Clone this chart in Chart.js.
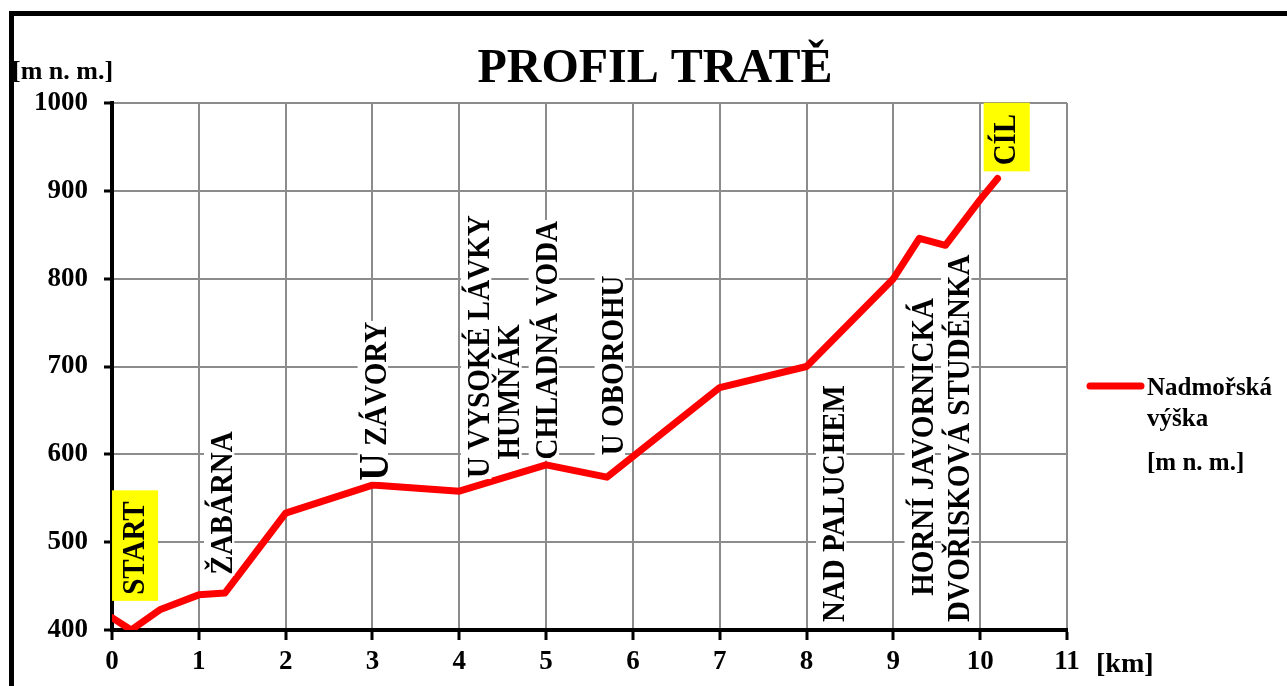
<!DOCTYPE html>
<html>
<head>
<meta charset="utf-8">
<script src="https://cdn.jsdelivr.net/npm/chart.js@4.4.0/dist/chart.umd.min.js"></script>
<style>
  html, body { margin: 0; padding: 0; background: #fff; overflow: hidden; }
  #frame { position: absolute; left: 9px; top: 11px; width: 1400px; height: 800px; border: 5px solid #000; }
  #wrap { position: absolute; left: 0; top: 0; width: 1287px; height: 686px; }
</style>
</head>
<body>
<div id="frame"></div>
<div id="wrap"><canvas id="chart" width="1287" height="686"></canvas></div>
<script>
// profile of the track: distance [km] and elevation [m n. m.]
const kmPoints  = [0, 0.22, 0.55, 1.0, 1.3, 2.0, 3.0, 4.0, 5.0, 5.7, 7.0, 8.0, 9.0, 9.3, 9.6, 10.0, 10.2];
const elevation = [414, 400, 423, 440, 442, 533, 565, 558, 588, 574, 676, 700, 800, 846, 838, 890, 914];

const xTicks = [0, 1, 2, 3, 4, 5, 6, 7, 8, 9, 10, 11];
const yTicks = [400, 500, 600, 700, 800, 900, 1000];

// place names, written upwards; anchored at km / elevation of text start
const siteNames = ["START", "ŽABÁRNA", "U ZÁVORY", "U VYSOKÉ LÁVKY", "HUMŇÁK", "CHLADNÁ VODA",
                   "U OBOROHU", "NAD PALUCHEM", "HORNÍ JAVORNICKÁ", "DVOŘISKOVÁ STUDÉNKA", "CÍL"];
const siteKm   = [0.24, 1.26, 3.03, 4.22, 4.57, 5.0, 5.76, 8.31, 9.33, 9.75, 10.28];
const siteElev = [440, 463, 570, 573, 594, 594, 599, 409, 439, 409, 929];
const siteMark = [true, false, false, false, false, false, false, false, false, false, true];

const FONT = '"Liberation Serif", "Times New Roman", serif';

const labelsPlugin = {
  id: 'profileLabels',
  afterDatasetsDraw(chart) {
    const ctx = chart.ctx;
    const xs = chart.scales.x, ys = chart.scales.y;
    const size = 29;
    const stretch = 1.12;
    ctx.save();
    siteNames.forEach((name, i) => {
      const px = xs.getPixelForValue(siteKm[i]);
      const py = ys.getPixelForValue(siteElev[i]);
      // "U ZÁVORY" has a larger leading letter in the original
      const big = name === 'U ZÁVORY';
      const head = big ? 'U' : '';
      const rest = big ? name.slice(1) : name;
      ctx.font = 'bold ' + Math.round(size * 1.3) + 'px ' + FONT;
      const wHead = head ? ctx.measureText(head).width : 0;
      ctx.font = 'bold ' + size + 'px ' + FONT;
      const w = wHead + ctx.measureText(rest).width;
      const capH = size * 0.66;
      ctx.save();
      ctx.translate(px, py);
      ctx.rotate(-Math.PI / 2);
      ctx.scale(1, stretch);
      if (siteMark[i]) {
        ctx.fillStyle = '#ffff00';
        ctx.fillRect(-6, -capH / 2 - 9, w + 17, capH + 22);
      } else {
        ctx.fillStyle = '#ffffff';
        ctx.fillRect(-1, -capH / 2 - 6, w + 2, capH + 8);
      }
      ctx.fillStyle = '#000';
      ctx.textBaseline = 'alphabetic';
      if (head) {
        ctx.font = 'bold ' + Math.round(size * 1.3) + 'px ' + FONT;
        ctx.fillText(head, 0, capH / 2 + 2);
        ctx.font = 'bold ' + size + 'px ' + FONT;
      }
      ctx.fillText(rest, wHead, capH / 2);
      ctx.restore();
    });
    ctx.restore();
  },
  afterDraw(chart) {
    const ctx = chart.ctx;
    ctx.save();
    ctx.fillStyle = '#000';
    ctx.textBaseline = 'alphabetic';
    ctx.textAlign = 'center';
    ctx.font = 'bold 48px ' + FONT;
    ctx.fillText('PROFIL TRATĚ', 655, 82);
    ctx.textAlign = 'left';
    ctx.font = 'bold 26px ' + FONT;
    ctx.fillText('[m n. m.]', 12, 79);
    ctx.font = 'bold 28px ' + FONT;
    ctx.fillText('[km]', 1096, 672);
    // legend
    const ds = chart.data.datasets[0];
    ctx.strokeStyle = ds.borderColor;
    ctx.lineWidth = 7;
    ctx.lineCap = 'round';
    ctx.beginPath();
    ctx.moveTo(1090, 386);
    ctx.lineTo(1141, 386);
    ctx.stroke();
    ctx.font = 'bold 25px ' + FONT;
    ds.label.split('\n').forEach((line, i) => {
      ctx.fillText(line, 1147, [395, 426, 470][i]);
    });
    ctx.restore();
  }
};

new Chart(document.getElementById('chart'), {
  type: 'line',
  data: {
    datasets: [{
      label: 'Nadmořská\nvýška\n[m n. m.]',
      data: kmPoints.map((k, i) => ({ x: k, y: elevation[i] })),
      borderColor: '#ff0000',
      borderWidth: 7,
      borderJoinStyle: 'round',
      borderCapStyle: 'round',
      pointRadius: 0,
      tension: 0,
      fill: false
    }]
  },
  options: {
    responsive: false,
    animation: false,
    layout: { padding: { left: 0, top: 103, right: 220, bottom: 4 } },
    plugins: { legend: { display: false }, title: { display: false }, tooltip: { enabled: false } },
    scales: {
      x: {
        type: 'linear',
        min: 0, max: 11,
        afterBuildTicks: (s) => { s.ticks = xTicks.map(v => ({ value: v })); },
        afterFit: (s) => { s.height = 52; },
        border: { color: '#000', width: 4 },
        grid: { color: '#8c8c8c', lineWidth: 2, tickColor: '#000', tickLength: 10, tickWidth: 3 },
        ticks: { color: '#000', padding: 6, font: { family: FONT, size: 27, weight: 'bold' }, maxRotation: 0,
                 callback: (v) => String(v) }
      },
      y: {
        min: 400, max: 1000,
        afterBuildTicks: (s) => { s.ticks = yTicks.map(v => ({ value: v })); },
        afterFit: (s) => { s.width = 112; },
        border: { color: '#000', width: 4 },
        grid: { color: '#8c8c8c', lineWidth: 2, tickColor: '#000', tickLength: 8, tickWidth: 3 },
        ticks: { color: '#000', padding: 16, font: { family: FONT, size: 27, weight: 'bold' },
                 callback: (v) => String(v) }
      }
    }
  },
  plugins: [labelsPlugin]
});
</script>
</body>
</html>
